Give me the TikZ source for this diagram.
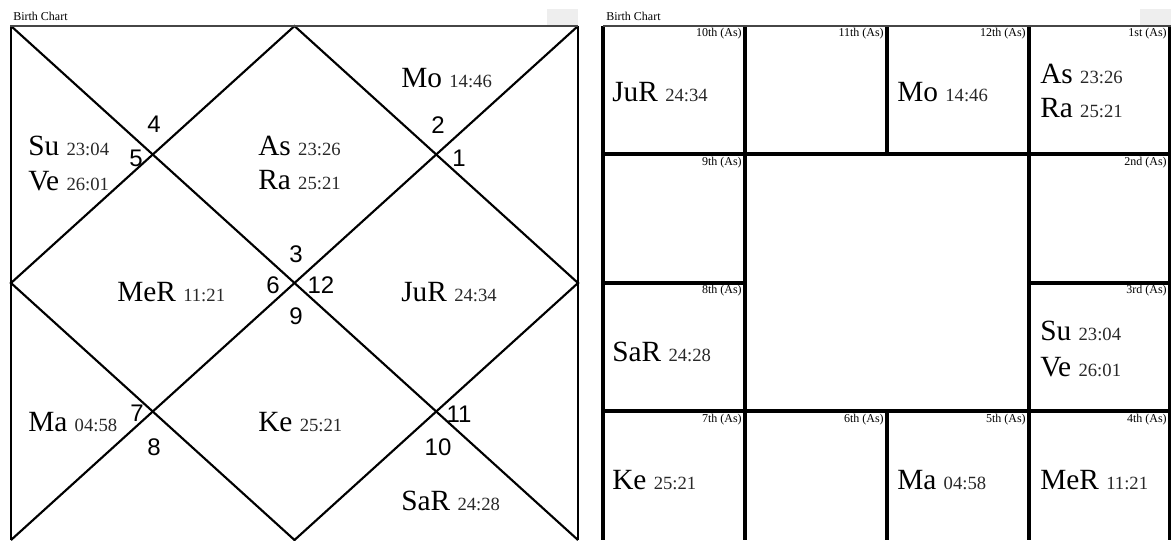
\documentclass[tikz,border=0pt]{standalone}
\usepackage{fontspec}
\setmainfont{Liberation Serif}
\newfontfamily\numfont{Liberation Sans}
\usetikzlibrary{positioning,calc}
\definecolor{framegray}{RGB}{70,70,70}
\definecolor{tabgray}{RGB}{238,238,238}
\definecolor{degcol}{RGB}{40,40,40}

% planet name (large) followed by its degree (small)
\newcommand{\pl}[2]{{\fontsize{22}{26}\selectfont #1}\hspace{5.5pt}{\fontsize{14}{16}\selectfont\color{degcol}#2}}

\begin{document}
\begin{tikzpicture}[
    x=0.75pt, y=-0.75pt,
    chartline/.style={line width=1.6pt, black},
    gridline/.style={line width=2.4pt, black},
    topline/.style={line width=1.6pt, framegray},
    charttitle/.style={font=\fontsize{9}{10}\selectfont, anchor=base west, inner sep=0pt},
    planet/.style={anchor=base west, inner sep=0pt},
    housenum/.style={font=\numfont\fontsize{18}{20}\selectfont, inner sep=0pt},
    houselabel/.style={font=\fontsize{9}{10}\selectfont, anchor=base east, inner sep=0pt},
]
\useasboundingbox (0,0) rectangle (1171,540);

% ============ TITLES ============
\fill[tabgray] (547,9) rectangle (578,25);
\fill[tabgray] (1140,9) rectangle (1171,25);
\node[charttitle] (ltitle) at (13,20.5) {Birth Chart};
\node[charttitle] (rtitle) at (606,20.5) {Birth Chart};

% ============ NORTH INDIAN CHART (LEFT) ============
\coordinate (L-nw) at (11,26);
\coordinate (L-ne) at (578,26);
\coordinate (L-sw) at (11,540);
\coordinate (L-se) at (578,540);
\coordinate (L-n) at ($(L-nw)!0.5!(L-ne)$);
\coordinate (L-s) at ($(L-sw)!0.5!(L-se)$);
\coordinate (L-w) at ($(L-nw)!0.5!(L-sw)$);
\coordinate (L-e) at ($(L-ne)!0.5!(L-se)$);

\draw[chartline] (L-nw) -- (L-sw);
\draw[chartline] (L-ne) -- (L-se);
\draw[chartline] (L-nw) -- (L-se);
\draw[chartline] (L-ne) -- (L-sw);
\draw[chartline] (L-n) -- (L-w) -- (L-s) -- (L-e) -- cycle;
\draw[topline] (10,26) -- (L-ne);

% house numbers
\node[housenum] (n4) at (154,124) {4};
\node[housenum] (n5) at (136,158) {5};
\node[housenum] (n2) at (438,125) {2};
\node[housenum] (n1) at (459,158) {1};
\node[housenum] (n3) at (296,254) {3};
\node[housenum] (n6) at (273,285) {6};
\node[housenum] (n12) at (321,285) {12};
\node[housenum] (n9) at (296,316) {9};
\node[housenum] (n7) at (137,413) {7};
\node[housenum] (n8) at (154,447) {8};
\node[housenum] (n11) at (459,414) {11};
\node[housenum] (n10) at (438,447) {10};

% planets
\node[planet] (l-mo) at (401,87) {\pl{Mo}{14:46}};
\node[planet] (l-su) at (28,155) {\pl{Su}{23:04}};
\node[planet] (l-ve) at (28,190) {\pl{Ve}{26:01}};
\node[planet] (l-as) at (258,155) {\pl{As}{23:26}};
\node[planet] (l-ra) at (258,189) {\pl{Ra}{25:21}};
\node[planet] (l-me) at (117,301) {\pl{MeR}{11:21}};
\node[planet] (l-ju) at (401,301) {\pl{JuR}{24:34}};
\node[planet] (l-ma) at (28,431) {\pl{Ma}{04:58}};
\node[planet] (l-ke) at (258,431) {\pl{Ke}{25:21}};
\node[planet] (l-sa) at (401,510) {\pl{SaR}{24:28}};

% ============ SOUTH INDIAN CHART (RIGHT) ============
\coordinate (R-nw) at (603,26);
\coordinate (R-ne) at (1169.5,26);

\draw[gridline] (603,26) -- (603,540);
\draw[gridline] (745,26) -- (745,540);
\draw[gridline] (887,26) -- (887,154);
\draw[gridline] (887,411) -- (887,540);
\draw[gridline] (1029,26) -- (1029,540);
\draw[gridline] (1169.5,26) -- (1169.5,540);
\draw[gridline] (603,154) -- (1169.5,154);
\draw[gridline] (603,411) -- (1169.5,411);
\draw[gridline] (603,283) -- (745,283);
\draw[gridline] (1029,283) -- (1169.5,283);
\draw[topline] (R-nw) -- (1171,26);

% house labels
\node[houselabel] (h10) at (742,36) {10th (As)};
\node[houselabel] (h11) at (884,36) {11th (As)};
\node[houselabel] (h12) at (1026,36) {12th (As)};
\node[houselabel] (h1) at (1167,36) {1st (As)};
\node[houselabel] (h9) at (742,165) {9th (As)};
\node[houselabel] (h2) at (1167,165) {2nd (As)};
\node[houselabel] (h8) at (742,293) {8th (As)};
\node[houselabel] (h3) at (1167,293) {3rd (As)};
\node[houselabel] (h7) at (742,422) {7th (As)};
\node[houselabel] (h6) at (884,422) {6th (As)};
\node[houselabel] (h5) at (1026,422) {5th (As)};
\node[houselabel] (h4) at (1167,422) {4th (As)};

% planets
\node[planet] (r-ju) at (612,101) {\pl{JuR}{24:34}};
\node[planet] (r-mo) at (897,101) {\pl{Mo}{14:46}};
\node[planet] (r-as) at (1040,83) {\pl{As}{23:26}};
\node[planet] (r-ra) at (1040,117) {\pl{Ra}{25:21}};
\node[planet] (r-sa) at (612,361) {\pl{SaR}{24:28}};
\node[planet] (r-su) at (1040,340) {\pl{Su}{23:04}};
\node[planet] (r-ve) at (1040,376) {\pl{Ve}{26:01}};
\node[planet] (r-ke) at (612,489) {\pl{Ke}{25:21}};
\node[planet] (r-ma) at (897,489) {\pl{Ma}{04:58}};
\node[planet] (r-me) at (1040,489) {\pl{MeR}{11:21}};

\end{tikzpicture}
\end{document}
